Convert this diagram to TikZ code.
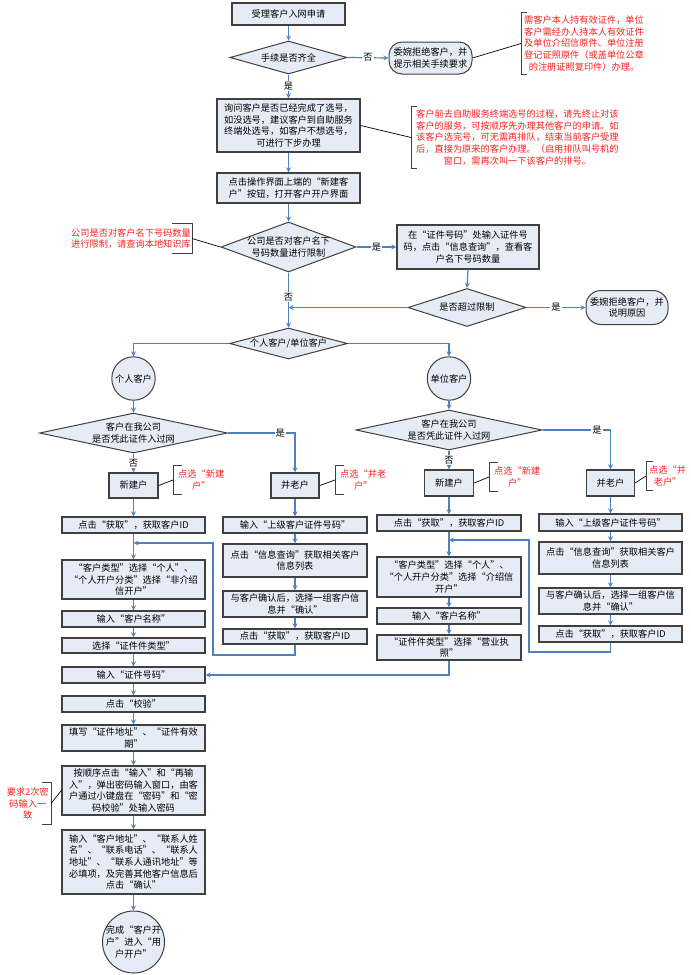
\documentclass[tikz,border=0pt]{standalone}
\usepackage{fontspec}
\setmainfont{Noto Sans CJK SC}
\usepackage{xcolor}
\usepackage{tikz}
\usetikzlibrary{shapes.geometric}

\definecolor{boxfill}{RGB}{230,236,246}
\definecolor{flow}{RGB}{79,129,189}
\definecolor{edge}{RGB}{64,64,64}
\definecolor{notered}{RGB}{255,30,30}

\tikzset{
	box/.style={draw=edge, line width=1.3pt, fill=boxfill, align=center, inner sep=1pt, minimum width=143pt},
	dia/.style={diamond, draw=edge, line width=1pt, fill=boxfill, align=center, inner xsep=-10pt, inner ysep=-4pt},
	term/.style={draw=edge, line width=1pt, fill=boxfill, align=center, rounded corners=13pt, inner sep=1pt},
	ball/.style={circle, draw=edge, line width=1pt, fill=boxfill, align=center, inner sep=0pt},
	note/.style={text=notered, align=center, inner ysep=0pt},
	tag/.style={fill=white, inner sep=1pt},
	brace/.style={draw=edge, line width=1pt},
	link/.style={draw=black, line width=0.7pt}
}

\begin{document}
\begin{tikzpicture}[x=1pt, y=-1pt, every node/.style={font=\fontsize{9.2}{11.6}\selectfont}]
			\useasboundingbox (0,0) rectangle (691,975);

			\node[box, minimum width=113pt, minimum height=22pt] (start) at (288.5,14) {受理客户入网申请};
			\node[dia, shape aspect=3.5, minimum width=117pt, minimum height=33pt] (chk) at (288.5,57.5) {手续是否齐全};
			\node[term, minimum width=83pt, minimum height=32pt] (refuse1) at (430.5,58) {委婉拒绝客户，并\\提示相关手续要求};
			\node[note, anchor=west, inner xsep=3pt, minimum height=61pt] (note1) at (521,43.5) {需客户本人持有效证件，单位\\客户需经办人持本人有效证件\\及单位介绍信原件、单位注册\\登记证照原件（或盖单位公章\\的注册证照复印件）办理。};

			\node[box, minimum height=53pt] (ask) at (288.5,125.5) {询问客户是否已经完成了选号，\\如没选号，建议客户到自助服务\\终端处选号，如客户不想选号，\\可进行下步办理};
			\node[note, anchor=west, inner xsep=5pt, minimum height=61pt] (note2) at (411,137.5) {客户前去自助服务终端选号的过程，请先终止对该\\客户的服务，可按顺序先办理其他客户的申请。如\\该客户选完号，可无需再排队，结束当前客户受理\\后，直接为原来的客户办理。（启用排队叫号机的\\窗口，需再次叫一下该客户的排号。};

			\node[box, minimum height=30pt] (newc) at (288.5,188) {点击操作界面上端的“新建客\\户”按钮，打开客户开户界面};
			\node[dia, shape aspect=2.7, minimum width=135pt, minimum height=50pt] (lim) at (288.5,247) {公司是否对客户名下\\号码数量进行限制};
			\node[note, anchor=east, inner xsep=1pt, minimum height=29pt] (limnote) at (192,238.5) {公司是否对客户名下号码数量\\进行限制，请查询本地知识库};
			\node[box, minimum width=142pt, minimum height=44pt] (query) at (468,247) {在“证件号码”处输入证件号\\码，点击“信息查询”，查看客\\户名下号码数量};
			\node[dia, shape aspect=3.1, minimum width=118pt, minimum height=38pt] (over) at (467,307.5) {是否超过限制};
			\node[term, minimum width=82pt, minimum height=34pt, rounded corners=15pt] (refuse2) at (627,307.5) {委婉拒绝客户，并\\说明原因};

			\node[dia, shape aspect=3.8, minimum width=118pt, minimum height=31pt] (kind) at (288.5,343.5) {个人客户/单位客户};
			\node[ball, minimum size=43.4pt] (per) at (133.5,378.5) {个人客户};
			\node[ball, minimum size=43.4pt] (uni) at (449,378.5) {单位客户};
			\node[dia, shape aspect=4.7, minimum width=188pt, minimum height=40pt] (pq) at (133.5,433) {客户在我公司\\是否凭此证件入过网};
			\node[dia, shape aspect=4.7, minimum width=186pt, minimum height=40pt] (uq) at (449,430) {客户在我公司\\是否凭此证件入过网};

			\node[box, minimum width=49pt, minimum height=25pt] (pnew) at (133.5,485.5) {新建户};
			\node[box, minimum width=48pt, minimum height=25pt] (pold) at (295,485.5) {并老户};
			\node[box, minimum width=49pt, minimum height=26pt] (unew) at (449,483) {新建户};
			\node[box, minimum width=48pt, minimum height=26pt] (uold) at (610.5,483) {并老户};
			\node[note, anchor=west, inner xsep=5pt, minimum height=28pt] (pnewnote) at (173,480) {点选“新建\\户”};
			\node[note, anchor=west, inner xsep=5pt, minimum height=28pt] (poldnote) at (335,480) {点选“并老\\户”};
			\node[note, anchor=west, inner xsep=5pt, minimum height=28pt] (unewnote) at (489,477) {点选“新建\\户”};
			\node[note, anchor=west, inner xsep=3pt, minimum height=28pt] (uoldnote) at (646,476) {点选“并\\老户”};

			\node[box, minimum height=16pt] (pid) at (133.5,525) {点击“获取”，获取客户ID};
			\node[box, minimum height=39pt] (ptype) at (133.5,579.5) {“客户类型”选择“个人”、\\“个人开户分类”选择“非介绍\\信开户”};
			\node[box, minimum height=16pt] (pname) at (133.5,619) {输入“客户名称”};
			\node[box, minimum height=15pt] (pcert) at (133.5,645.5) {选择“证件件类型”};
			\node[box, minimum height=16pt] (certno) at (133.5,675) {输入“证件号码”};
			\node[box, minimum height=16pt] (check) at (133.5,704) {点击“校验”};
			\node[box, minimum height=26pt] (addr) at (133.5,738) {填写“证件地址”、“证件有效\\期”};
			\node[box, minimum height=49pt] (pwd) at (133.5,790.5) {按顺序点击“输入”和“再输\\入”，弹出密码输入窗口，由客\\户通过小键盘在“密码”和“密\\码校验”处输入密码};
			\node[note, anchor=east, inner xsep=2pt, minimum height=41pt] (warn) at (51,803.5) {要求2次密\\码输入一\\致};
			\node[box, minimum height=64pt] (info) at (133.5,862) {输入“客户地址”、“联系人姓\\名”、“联系电话”、“联系人\\地址”、“联系人通讯地址”等\\必填项，及完善其他客户信息后\\点击“确认”};
			\node[ball, minimum size=62pt, inner sep=-5pt] (done) at (133.5,942) {完成“客户开\\户”进入“用\\户开户”};

			\node[box, minimum width=144pt, minimum height=16pt] (oin) at (295,525) {输入“上级客户证件号码”};
			\node[box, minimum width=144pt, minimum height=33pt] (olist) at (295,560.5) {点击“信息查询”获取相关客户\\信息列表};
			\node[box, minimum width=144pt, minimum height=26pt] (ook) at (295,604) {与客户确认后，选择一组客户信\\息并“确认”};
			\node[box, minimum width=144pt, minimum height=15pt] (oid) at (295,636.5) {点击“获取”，获取客户ID};

			\node[box, minimum width=144pt, minimum height=16pt] (uid) at (449,523) {点击“获取”，获取客户ID};
			\node[box, minimum width=144pt, minimum height=40pt] (utype) at (449,577) {“客户类型”选择“个人”、\\“个人开户分类”选择“介绍信\\开户”};
			\node[box, minimum width=144pt, minimum height=16pt] (uname) at (449,616) {输入“客户名称”};
			\node[box, minimum width=144pt, minimum height=25pt] (ucert) at (449,647.5) {“证件件类型”选择“营业执\\照”};

			\node[box, minimum height=17pt] (uoin) at (610.5,522.5) {输入“上级客户证件号码”};
			\node[box, minimum height=32pt] (uolist) at (610.5,558) {点击“信息查询”获取相关客户\\信息列表};
			\node[box, minimum height=26pt] (uook) at (610.5,601) {与客户确认后，选择一组客户信\\息并“确认”};
			\node[box, minimum height=16pt] (uoid) at (610.5,634) {点击“获取”，获取客户ID};

			\coordinate (pmerge) at (133.5,543);
			\coordinate (ploop) at (213,655);
			\coordinate (umerge) at (449,540);
			\coordinate (uloop) at (529,652);

			\foreach \n/\w in {note1/6pt, note2/6pt, pnewnote/9pt, poldnote/9pt, unewnote/9pt, uoldnote/7pt}
			{
				\draw[brace] ([xshift=\w]\n.north west) -- (\n.north west) -- (\n.south west) -- ([xshift=\w]\n.south west);
			}
			\foreach \n/\w in {limnote/20pt, warn/9pt}
			{
				\draw[brace] ([xshift=-\w]\n.north east) -- (\n.north east) -- (\n.south east) -- ([xshift=-\w]\n.south east);
			}

			\draw[link] (refuse1.east) -- (note1.west);
			\draw[link] (ask.east) -- (note2.west);
			\draw[link] (limnote.east) -- (lim.west);
			\draw[link] (pnew.east) -- (pnewnote.west);
			\draw[link] (pold.east) -- (poldnote.west);
			\draw[link] (unew.east) -- (unewnote.west);
			\draw[link] (uold.east) -- (uoldnote.west);
			\draw[link] (warn.east) -- (pwd.west);

			\begin{scope}[-stealth, draw=flow, line width=1.2pt]
				\foreach \a/\b in {start/chk, ask/newc, newc/lim, query/over, per/pq, uni/uq, pnew/pid, pold/oin, unew/uid, uold/uoin, pid/ptype, ptype/pname, pname/pcert, pcert/certno, certno/check, check/addr, addr/pwd, pwd/info, info/done, oin/olist, olist/ook, ook/oid, uid/utype, utype/uname, uname/ucert, uoin/uolist, uolist/uook, uook/uoid}
				{
					\draw (\a.south) -- (\b.north);
				}

				\draw (chk.east) -- node[tag] {否} (refuse1.west);
				\draw (chk.south) -- node[tag] {是} (ask.north);
				\draw (lim.east) -- node[tag] {是} (query.west);
				\draw (over.east) -- node[tag] {是} (refuse2.west);
				\draw (lim.south) -- node[tag, pos=0.45] {否} (kind.north);
				\draw (over.west) -- (over.west -| lim.south);
				\draw (kind.west) -| (per.north);
				\draw (kind.east) -| (uni.north);
				\draw (pq.south) -- node[tag] {否} (pnew.north);
				\draw (pq.east) -| node[tag, pos=0.39] {是} (pold.north);
				\draw (uq.south) -- node[tag] {否} (unew.north);
				\draw (uq.east) -| node[tag, pos=0.4] {是} (uold.north);

				\draw (oid.south) |- (ploop) |- (pmerge);
				\draw (uoid.south) |- (uloop) |- (umerge);
				\draw (ucert.south) |- (certno.east);
			\end{scope}
		\end{tikzpicture}
\end{document}
